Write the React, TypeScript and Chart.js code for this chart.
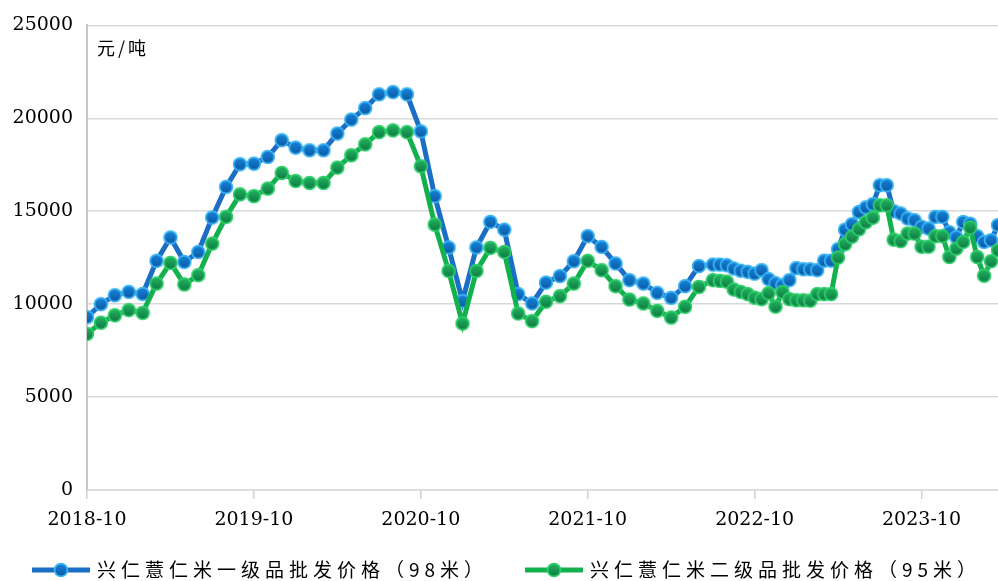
import React, { useEffect, useRef } from "react";
import { Chart, registerables } from "chart.js";

Chart.register(...registerables);

// Months since 2018-10 (monthly up to 2022-07, then semi-monthly)
const monthOffsets = [
  0, 1, 2, 3, 4, 5, 6, 7, 8, 9, 10, 11, 12, 13, 14, 15, 16, 17, 18, 19, 20, 21, 22, 23,
  24, 25, 26, 27, 28, 29, 30, 31, 32, 33, 34, 35, 36, 37, 38, 39, 40, 41, 42, 43, 44, 45,
  45.5, 46, 46.5, 47, 47.5, 48, 48.5, 49, 49.5, 50, 50.5, 51, 51.5, 52, 52.5, 53, 53.5,
  54, 54.5, 55, 55.5, 56, 56.5, 57, 57.5, 58, 58.5, 59, 59.5, 60, 60.5, 61, 61.5, 62,
  62.5, 63, 63.5, 64, 64.5, 65, 65.5,
];

// 兴仁薏仁米一级品批发价格（98米）
const grade1Prices = [
  9300, 10000, 10480, 10660, 10550, 12330, 13590, 12270, 12810, 14660, 16310, 17530,
  17560, 17920, 18820, 18420, 18280, 18280, 19180, 19930, 20550, 21290, 21410, 21290,
  19300, 15810, 13050, 10160, 13050, 14430, 14010, 10540, 10040, 11160, 11510, 12310,
  13660, 13080, 12190, 11290, 11110, 10610, 10340, 10970, 12050, 12130,
  12130, 12100, 11920, 11800, 11740, 11640, 11830, 11350, 11130, 11020, 11290, 11940,
  11880, 11880, 11830, 12340, 12340, 12960, 14010, 14300, 14960, 15210, 15380, 16400,
  16400, 15000, 14880, 14610, 14520, 14160, 14070, 14700, 14700, 13870, 13600, 14420,
  14330, 13660, 13350, 13440, 14250,
];

// 兴仁薏仁米二级品批发价格（95米）
const grade2Prices = [
  8400, 9000, 9400, 9680, 9530, 11110, 12220, 11060, 11560, 13260, 14700, 15910,
  15810, 16220, 17060, 16630, 16520, 16520, 17350, 18010, 18600, 19260, 19350, 19260,
  17420, 14280, 11790, 8960, 11790, 13030, 12810, 9500, 9090, 10130, 10430, 11110,
  12330, 11830, 10970, 10250, 10040, 9640, 9280, 9860, 10930, 11290,
  11250, 11210, 10790, 10660, 10540, 10350, 10270, 10590, 9870, 10650, 10270, 10210,
  10210, 10190, 10540, 10540, 10540, 12510, 13230, 13630, 14030, 14410, 14650, 15320,
  15320, 13470, 13390, 13800, 13800, 13090, 13090, 13660, 13660, 12540, 12990, 13350,
  14120, 12540, 11530, 12310, 12900,
];

const yearTickMonths = [0, 12, 24, 36, 48, 60];
const yearTickLabels = ["2018-10", "2019-10", "2020-10", "2021-10", "2022-10", "2023-10"];
const seriesNames = ["兴仁薏仁米一级品批发价格（98米）", "兴仁薏仁米二级品批发价格（95米）"];
const unitLabel = "元/吨";

const BLUE_LINE = "#1a6ec6";
const GREEN_LINE = "#12b14e";

function makeDot(border: string, top: string, bottom: string) {
  const c = document.createElement("canvas");
  c.width = 16;
  c.height = 16;
  const ctx = c.getContext("2d")!;
  const g = ctx.createLinearGradient(0, 2, 0, 14);
  g.addColorStop(0, top);
  g.addColorStop(1, bottom);
  ctx.beginPath();
  ctx.arc(8, 8, 6.4, 0, Math.PI * 2);
  ctx.fillStyle = g;
  ctx.fill();
  ctx.lineWidth = 1.7;
  ctx.strokeStyle = border;
  ctx.stroke();
  return c;
}

export default function App() {
  const ref = useRef<HTMLCanvasElement | null>(null);

  useEffect(() => {
    if (!ref.current) return;
    const blueDot = makeDot("#3cb6f3", "#1682d8", "#0b5aa6");
    const greenDot = makeDot("#2fce6a", "#21b35f", "#0f7a45");

    const toPoints = (vals: number[]) => vals.map((v, i) => ({ x: monthOffsets[i], y: v }));

    const overlay = {
      id: "overlay",
      afterDraw(chart: any) {
        const ctx = chart.ctx;
        const area = chart.chartArea;
        ctx.save();
        ctx.fillStyle = "#000";
        ctx.textBaseline = "middle";
        ctx.textAlign = "left";
        ctx.font = '18px "Noto Sans CJK SC"';
        (ctx as any).letterSpacing = "3px";
        ctx.fillText(unitLabel, area.left + 10, 48);

        const items = [
          { x: 32, color: BLUE_LINE, dot: blueDot, text: seriesNames[0] },
          { x: 525, color: GREEN_LINE, dot: greenDot, text: seriesNames[1] },
        ];
        const ly = 570;
        for (const it of items) {
          ctx.strokeStyle = it.color;
          ctx.lineWidth = 5;
          ctx.beginPath();
          ctx.moveTo(it.x, ly);
          ctx.lineTo(it.x + 58, ly);
          ctx.stroke();
          ctx.drawImage(it.dot, it.x + 29 - 8, ly - 8);
          ctx.font = '19px "Noto Sans CJK SC"';
          (ctx as any).letterSpacing = "5px";
          ctx.fillStyle = "#000";
          ctx.fillText(it.text, it.x + 65, ly);
        }
        ctx.restore();
      },
    };

    const chart = new Chart(ref.current, {
      type: "line",
      data: {
        datasets: [
          {
            label: seriesNames[0],
            data: toPoints(grade1Prices),
            borderColor: BLUE_LINE,
            backgroundColor: BLUE_LINE,
            borderWidth: 5,
            pointStyle: blueDot as any,
            pointRadius: 7,
            tension: 0,
            order: 1,
          },
          {
            label: seriesNames[1],
            data: toPoints(grade2Prices),
            borderColor: GREEN_LINE,
            backgroundColor: GREEN_LINE,
            borderWidth: 5,
            pointStyle: greenDot as any,
            pointRadius: 7,
            tension: 0,
            order: 0,
          },
        ],
      },
      options: {
        animation: false,
        responsive: false,
        devicePixelRatio: 1,
        layout: { autoPadding: false, padding: { top: 25, right: 0, bottom: 0, left: 0 } },
        plugins: {
          legend: { display: false },
          tooltip: { enabled: false },
        },
        scales: {
          x: {
            type: "linear",
            min: 0,
            max: 65.5,
            afterBuildTicks: (scale: any) => {
              scale.ticks = yearTickMonths.map((v) => ({ value: v }));
            },
            afterFit: (scale: any) => {
              scale.height = 91;
              scale.paddingRight = 0;
              scale.paddingLeft = 0;
            },
            ticks: {
              autoSkip: false,
              maxRotation: 0,
              padding: 10,
              color: "#000",
              font: { family: "DejaVu Serif", size: 19 },
              callback: (v: any) => {
                const i = yearTickMonths.indexOf(Number(v));
                return i >= 0 ? yearTickLabels[i] : "";
              },
            },
            grid: {
              drawOnChartArea: false,
              drawTicks: true,
              tickLength: 9,
              color: "#d0d0d0",
              lineWidth: 1.5,
            },
            border: { display: true, color: "#d9d9d9", width: 1.5 },
          },
          y: {
            min: 0,
            max: 25000,
            afterFit: (scale: any) => {
              scale.width = 87;
            },
            ticks: {
              stepSize: 5000,
              padding: 14,
              color: "#000",
              font: { family: "DejaVu Serif", size: 19 },
              callback: (v: any) => String(v),
            },
            grid: {
              drawTicks: false,
              color: "#d9d9d9",
              lineWidth: 1.5,
            },
            border: { display: true, color: "#c8c8c8", width: 2 },
          },
        },
      },
      plugins: [overlay],
    });
    return () => chart.destroy();
  }, []);

  return (
    <div style={{ position: "absolute", left: 0, top: 0, width: 998, height: 581, background: "#fff" }}>
      <canvas ref={ref} width={998} height={581} />
    </div>
  );
}
